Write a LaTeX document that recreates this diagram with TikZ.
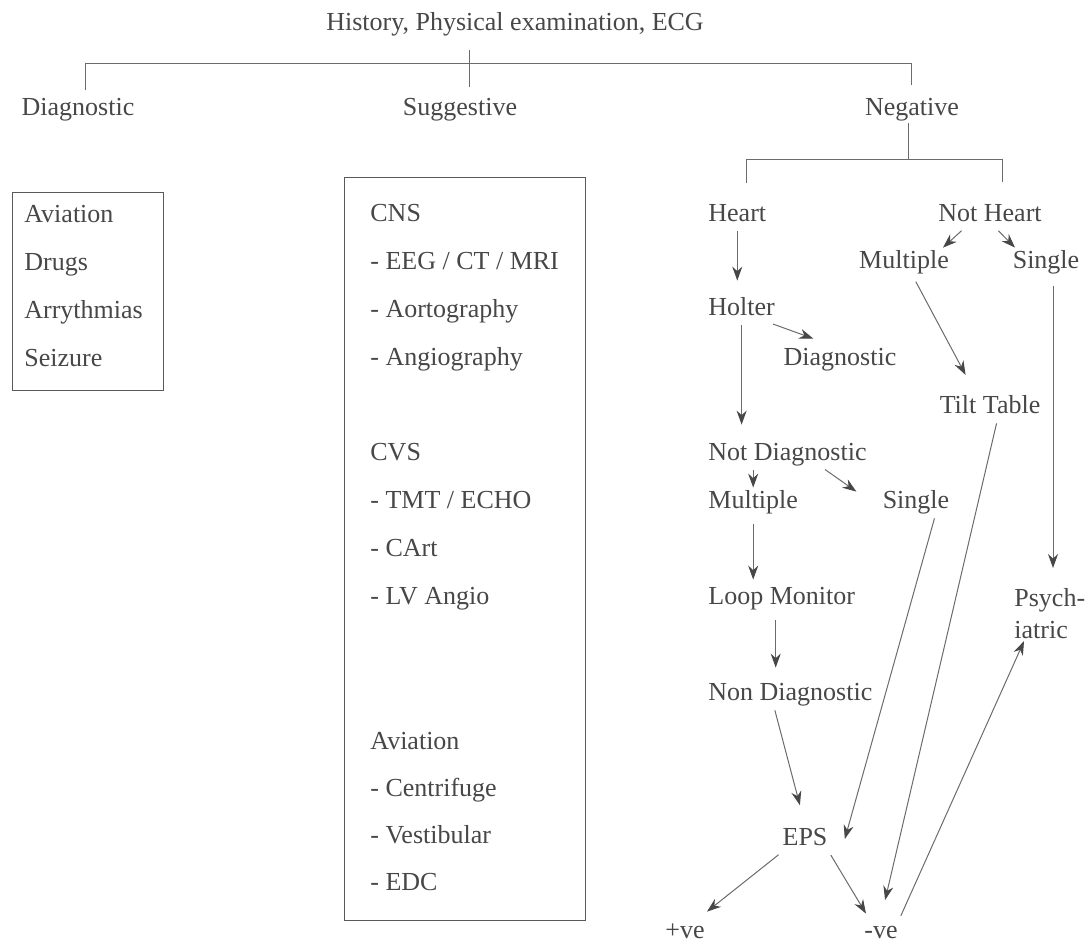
\documentclass[tikz,border=0pt]{standalone}
\usepackage{fontspec}
\setmainfont{Liberation Serif}
\usetikzlibrary{arrows.meta}

\tikzset{
  lbl/.style={text=black!72, inner sep=1pt, font=\fontsize{13}{16}\selectfont},
  one/.style={lbl, text height=9pt, text depth=3pt},
  wire/.style={draw=black!58, line width=0.5pt},
  arr/.style={wire, -{Stealth[length=7pt, width=5pt, color=black!72]}, shorten <=1pt},
  frame/.style={draw=black!65, line width=0.6pt, anchor=north west, inner sep=0pt},
}

\begin{document}
\begin{tikzpicture}[x=0.5pt, y=-0.5pt]
    \useasboundingbox (0,0) rectangle (1085,942);

    % First level
    \node[one] (hist) at (515,25) {History, Physical examination, ECG};
    \node[one] (diag) at (78,109) {Diagnostic};
    \node[one] (sugg) at (460,109) {Suggestive};
    \node[one] (neg) at (912,109) {Negative};

    \coordinate (busL) at (85,63);
    \coordinate (busR) at (911,63);
    \coordinate (stem) at (469,63);
    \draw[wire] (busL) ++(0,27) -- (busL) -- (busR) -- ++(0,22);
    \draw[wire] (stem) ++(0,-13) -- ++(0,37);

    % Diagnostic box
    \node[frame, minimum width=75.5pt, minimum height=99pt] (dxbox) at (12,192) {};
    \foreach \t [count=\i from 0] in {Aviation, Drugs, Arrythmias, Seizure}
        \node[one, anchor=west] (dx\i) at (22, 216+48*\i) {\t};

    % Suggestive box
    \node[frame, minimum width=120.5pt, minimum height=371.5pt] (sgbox) at (344,177) {};
    \foreach \t [count=\i from 0] in {CNS, - EEG / CT / MRI, - Aortography, - Angiography}
        \node[one, anchor=west] (cns\i) at (368, 215+48*\i) {\t};
    \foreach \t [count=\i from 0] in {CVS, - TMT / ECHO, - CArt, - LV Angio}
        \node[one, anchor=west] (cvs\i) at (368, 454+48*\i) {\t};
    \foreach \t [count=\i from 0] in {Aviation, - Centrifuge, - Vestibular, - EDC}
        \node[one, anchor=west] (avi\i) at (368, 743+47*\i) {\t};

    % Negative branch
    \coordinate (nstem) at (908,159);
    \coordinate (nbusL) at (746,159);
    \coordinate (nbusR) at (1002,159);
    \draw[wire] (neg.south -| nstem) -- (nstem);
    \draw[wire] (nbusL) ++(0,24) -- (nbusL) -- (nbusR) -- ++(0,23);

    % Heart side
    \node[one, anchor=west] (heart) at (706,215) {Heart};
    \node[one, anchor=west] (holter) at (706,309) {Holter};
    \node[one] (diagm) at (840,359) {Diagnostic};
    \node[one, anchor=west] (notdiag) at (706,454) {Not Diagnostic};
    \node[one, anchor=west] (multl) at (706,502) {Multiple};
    \node[one] (singm) at (916,502) {Single};
    \node[one, anchor=west] (loop) at (706,598) {Loop Monitor};
    \node[one, anchor=west] (nondiag) at (706,694) {Non Diagnostic};
    \node[one] (eps) at (805,839) {EPS};
    \node[one] (pve) at (685,932) {+ve};
    \node[one] (mneg) at (881,932) {-ve};

    % Not heart side
    \node[one] (nothr) at (990,215) {Not Heart};
    \node[one] (multr) at (904,262) {Multiple};
    \node[one] (singr) at (1046,262) {Single};
    \node[one] (tilt) at (990,407) {Tilt Table};
    \node[lbl, align=left, anchor=north west] (psych) at (1012,586) {Psych-\\iatric};

    % Arrows, heart side
    \draw[arr, shorten >=7pt] (heart.south) -- (heart.south |- holter.north);
    \draw[arr, shorten >=7.5pt] (holter.south) -- (holter.south |- notdiag.north);
    \draw[arr] ([xshift=-3pt]holter.south east) -- ([xshift=16pt,yshift=3pt]diagm.north west);
    \draw[arr] (multl.north |- notdiag.south) -- (multl.north);
    \draw[arr] ([xshift=18pt]notdiag.south) -- ([xshift=-12pt,yshift=-2pt]singm.north west);
    \draw[arr, shorten <=4pt, shorten >=2pt] (multl.south) -- (multl.south |- loop.north);
    \draw[arr, shorten <=4pt, shorten >=6pt] ([xshift=-3pt]loop.south) -- ([xshift=-3pt]loop.south |- nondiag.north);
    \draw[arr, shorten >=10pt] ([xshift=-8pt]nondiag.south) -- (eps.north);
    \draw[arr] ([xshift=9.5pt]singm.south) -- ([xshift=7.5pt]eps.east);
    \draw[arr] (eps.south west) -- ([yshift=3pt]pve.north east);
    \draw[arr] (eps.south east) -- ([xshift=2pt,yshift=2pt]mneg.north west);

    % Arrows, not heart side
    \draw[arr] ([xshift=-13.5pt]nothr.south) -- ([xshift=19.5pt]multr.north);
    \draw[arr] ([xshift=3.5pt]nothr.south) -- ([xshift=-15.5pt]singr.north);
    \draw[arr, shorten <=3pt, shorten >=10pt] ([xshift=4.5pt]multr.south) -- ([xshift=-7.5pt]tilt.north);
    \draw[arr, shorten <=5pt, shorten >=9pt] ([xshift=3.5pt]singr.south) -- ([xshift=3.5pt]singr.south |- psych.north);
    \draw[arr, shorten >=9pt] ([xshift=3.5pt]tilt.south) -- (mneg.north);
    \draw[arr] (mneg.north east) -- ([xshift=6pt]psych.south west);
\end{tikzpicture}
\end{document}
